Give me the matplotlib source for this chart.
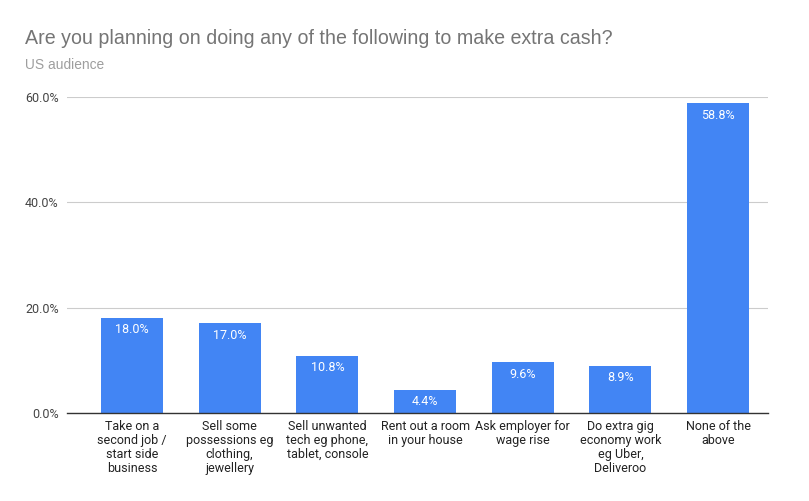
import matplotlib.pyplot as plt

categories = ['Take on a\nsecond job /\nstart side\nbusiness',
              'Sell some\npossessions eg\nclothing,\njewellery',
              'Sell unwanted\ntech eg phone,\ntablet, console',
              'Rent out a room\nin your house',
              'Ask employer for\nwage rise',
              'Do extra gig\neconomy work\neg Uber,\nDeliveroo',
              'None of the\nabove']
values = [18.0, 17.0, 10.8, 4.4, 9.6, 8.9, 58.8]
yticks = [0, 20, 40, 60]

fig = plt.figure(figsize=(8.09, 5.01), dpi=100)
ax = fig.add_axes([67 / 809, 1 - 413 / 501, (768 - 67) / 809, (413 - 97) / 501])

x = range(len(categories))
bars = ax.bar(x, values, width=0.635, color='#4285f4', zorder=3)

# value labels inside the top of each bar
for b, v in zip(bars, values):
    ax.text(b.get_x() + b.get_width() / 2, v - 1.0, f'{v:.1f}%', ha='center', va='top',
            color='white', fontsize=9, family='Roboto', zorder=4)

ax.set_xlim(-0.665, 6.51)
ax.set_ylim(0, 60)
ax.set_yticks(yticks)
ax.set_yticklabels([f'{t:.1f}%' for t in yticks], family='Roboto', fontsize=9, color='#444444')
ax.set_xticks(list(x))
ax.set_xticklabels(categories, family='Roboto', fontsize=9, color='#222222', linespacing=1.1)
ax.tick_params(axis='both', length=0, pad=6)
ax.tick_params(axis='x', pad=5)
ax.grid(axis='y', color='#cccccc', linewidth=0.8, zorder=0)
for s in ['top', 'right', 'left']:
    ax.spines[s].set_visible(False)
ax.spines['bottom'].set_color('#333333')
ax.spines['bottom'].set_linewidth(1)
ax.spines['bottom'].set_zorder(5)

fig.text(25 / 809, 1 - 38 / 501, 'Are you planning on doing any of the following to make extra cash?',
         family='Liberation Sans', fontsize=14.1, color='#757575', va='center')
fig.text(25 / 809, 1 - 65 / 501, 'US audience', family='Liberation Sans', fontsize=9.9,
         color='#9e9e9e', va='center')

fig.savefig('out.png', dpi=100)
